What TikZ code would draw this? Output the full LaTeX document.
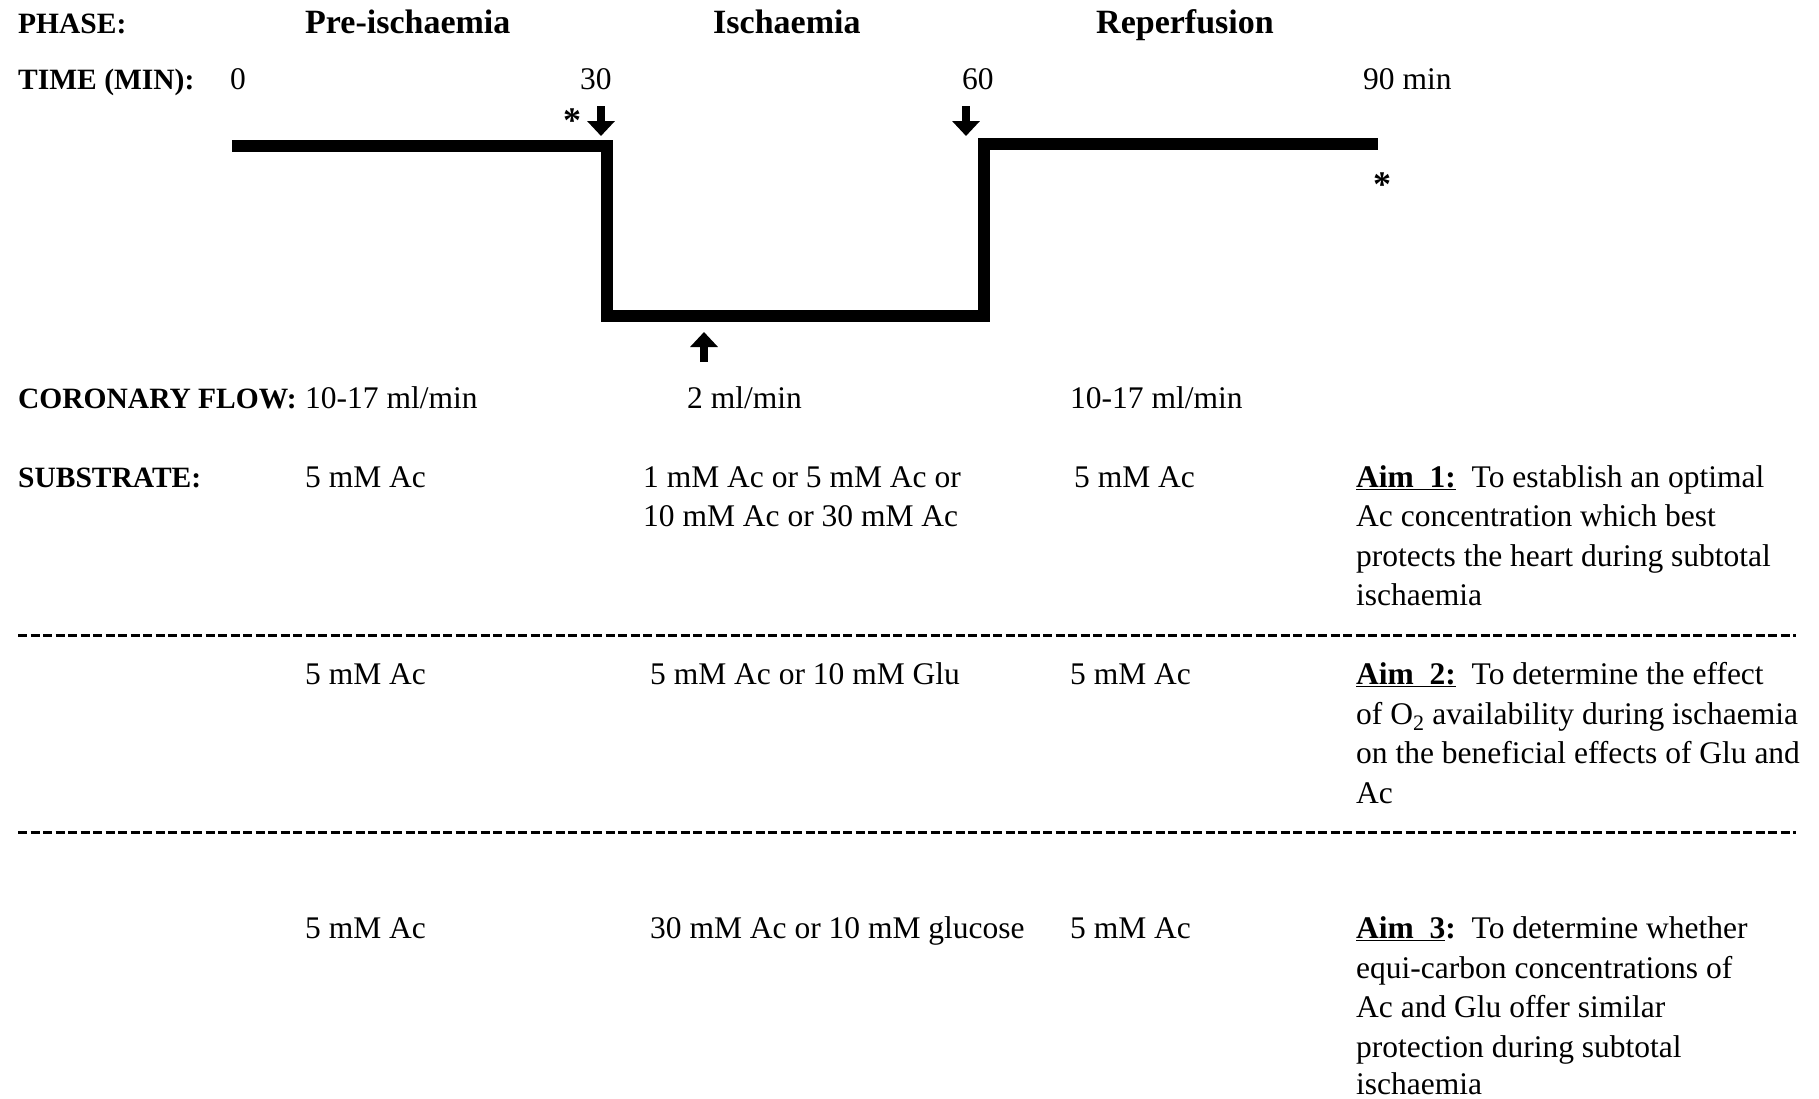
\documentclass[tikz,border=0pt]{standalone}
\usepackage{fontspec}
\setmainfont{Liberation Serif}
\usetikzlibrary{arrows.meta}
\tikzset{
  txt/.style={inner sep=0pt, anchor=base west, font=\fontsize{31.5}{38}\selectfont},
  lbl/.style={inner sep=0pt, anchor=base west, font=\fontsize{29.5}{35}\selectfont\bfseries},
  phase/.style={inner sep=0pt, anchor=base west, font=\fontsize{34}{40}\selectfont\bfseries},
  star/.style={inner sep=0pt, anchor=center, font=\fontsize{36}{40}\selectfont\bfseries},
  flow/.style={line width=12pt, line join=miter},
  marker/.style={line width=7.5pt, -{Triangle[width=27pt,length=15pt]}},
  sep/.style={line width=3pt, dash pattern=on 9pt off 3.5pt}
}
\newcommand{\aimhead}[1]{\underline{\textbf{Aim\ \ #1:}}}
\begin{document}
\begin{tikzpicture}[x=1pt,y=-1pt]
\useasboundingbox (0,0) rectangle (1819,1098);
% header rows
\node[lbl] (phl) at (18,33) {PHASE:};
\node[phase] (ph1) at (305,33) {Pre-ischaemia};
\node[phase] (ph2) at (713,33) {Ischaemia};
\node[phase] (ph3) at (1096,33) {Reperfusion};
\node[lbl] (tml) at (18,89) {TIME (MIN):};
\node[txt] (t0) at (230,89) {0};
\node[txt] (t30) at (580,89) {30};
\node[txt] (t60) at (962,89) {60};
\node[txt] (t90) at (1363,89) {90 min};
% flow profile
\coordinate (p0) at (232,146);
\coordinate (p1) at (607,146);
\coordinate (p2) at (607,316);
\coordinate (p3) at (984,316);
\coordinate (p4) at (984,144);
\coordinate (p5) at (1378,144);
\draw[flow] (p0) -- (p1) -- (p2) -- (p3) -- (p4) -- (p5);
% markers
\coordinate (a1s) at (601,106); \coordinate (a1e) at (601,136);
\coordinate (a2s) at (966,106); \coordinate (a2e) at (966,136);
\coordinate (a3s) at (704,362); \coordinate (a3e) at (704,332);
\draw[marker] (a1s) -- (a1e);
\draw[marker] (a2s) -- (a2e);
\draw[marker] (a3s) -- (a3e);
\node[star] (s1) at (572,121) {*};
\node[star] (s2) at (1382,185) {*};
% coronary flow
\node[lbl] (cfl) at (18,408) {CORONARY FLOW:};
\node[txt] (cf1) at (305,408) {10-17 ml/min};
\node[txt] (cf2) at (687,408) {2 ml/min};
\node[txt] (cf3) at (1070,408) {10-17 ml/min};
% substrate row 1
\node[lbl] (sbl) at (18,487) {SUBSTRATE:};
\node[txt] (r1a) at (305,487) {5 mM Ac};
\node[txt] (r1b) at (643,487) {1 mM Ac or 5 mM Ac or};
\node[txt] (r1b2) at (643,526) {10 mM Ac or 30 mM Ac};
\node[txt] (r1c) at (1074,487) {5 mM Ac};
\node[txt] (m1a) at (1356,487) {\aimhead{1}\ \ To establish an optimal};
\node[txt] (m1b) at (1356,526) {Ac concentration which best};
\node[txt] (m1c) at (1356,566) {protects the heart during subtotal};
\node[txt] (m1d) at (1356,605) {ischaemia};
\coordinate (d1s) at (18,635); \coordinate (d1e) at (1796,635);
\draw[sep] (d1s) -- (d1e);
% row 2
\node[txt] (r2a) at (305,684) {5 mM Ac};
\node[txt] (r2b) at (650,684) {5 mM Ac or 10 mM Glu};
\node[txt] (r2c) at (1070,684) {5 mM Ac};
\node[txt] (m2a) at (1356,684) {\aimhead{2}\ \ To determine the effect};
\node[txt] (m2b) at (1356,724) {of O\textsubscript{2} availability during ischaemia};
\node[txt] (m2c) at (1356,763) {on the beneficial effects of Glu and};
\node[txt] (m2d) at (1356,803) {Ac};
\coordinate (d2s) at (18,832); \coordinate (d2e) at (1796,832);
\draw[sep] (d2s) -- (d2e);
% row 3
\node[txt] (r3a) at (305,938) {5 mM Ac};
\node[txt] (r3b) at (650,938) {30 mM Ac or 10 mM glucose};
\node[txt] (r3c) at (1070,938) {5 mM Ac};
\node[txt] (m3a) at (1356,938) {\underline{\textbf{Aim\ \ 3}}\textbf{:}\ \ To determine whether};
\node[txt] (m3b) at (1356,978) {equi-carbon concentrations of};
\node[txt] (m3c) at (1356,1017) {Ac and Glu offer similar};
\node[txt] (m3d) at (1356,1057) {protection during subtotal};
\node[txt] (m3e) at (1356,1094) {ischaemia};
\end{tikzpicture}
\end{document}
